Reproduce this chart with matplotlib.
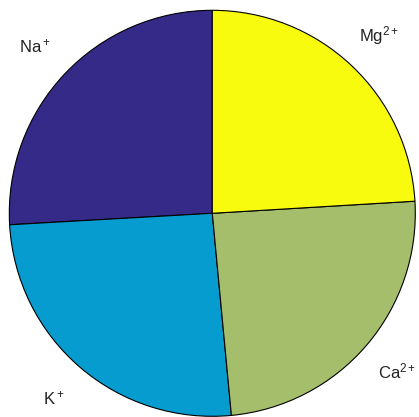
import matplotlib
matplotlib.use("Agg")
import matplotlib.pyplot as plt

labels = ["Na$^+$", "K$^+$", "Ca$^{2+}$", "Mg$^{2+}$"]
values = [25.9, 25.6, 24.45, 24.05]
colors = ["#352a87", "#079ccf", "#a5be6b", "#f9fb0e"]

plt.rcParams['font.family'] = ['Liberation Sans', 'DejaVu Sans']
plt.rcParams['mathtext.fontset'] = 'custom'
plt.rcParams['mathtext.rm'] = 'Liberation Sans'
plt.rcParams['mathtext.it'] = 'Liberation Sans'

fig = plt.figure(figsize=(4.19, 4.17), dpi=100)
ax = fig.add_axes([0, 0, 1, 1])
wedges, texts = ax.pie(values, labels=labels, colors=colors, startangle=90,
                       counterclock=True, labeldistance=1.2,
                       wedgeprops=dict(edgecolor="black", linewidth=0.8),
                       textprops=dict(fontsize=12, color="#222222"))
for t in texts:
    t.set_ha("center")
    t.set_va("center")
    t.set_clip_on(False)
r = 203.0
ax.set_xlim(-212.3 / r, (419 - 212.3) / r)
ax.set_ylim(-(417 - 213.3) / r, 213.3 / r)
ax.set_aspect("auto")
ax.axis("off")
fig.savefig("out.png", dpi=100)
